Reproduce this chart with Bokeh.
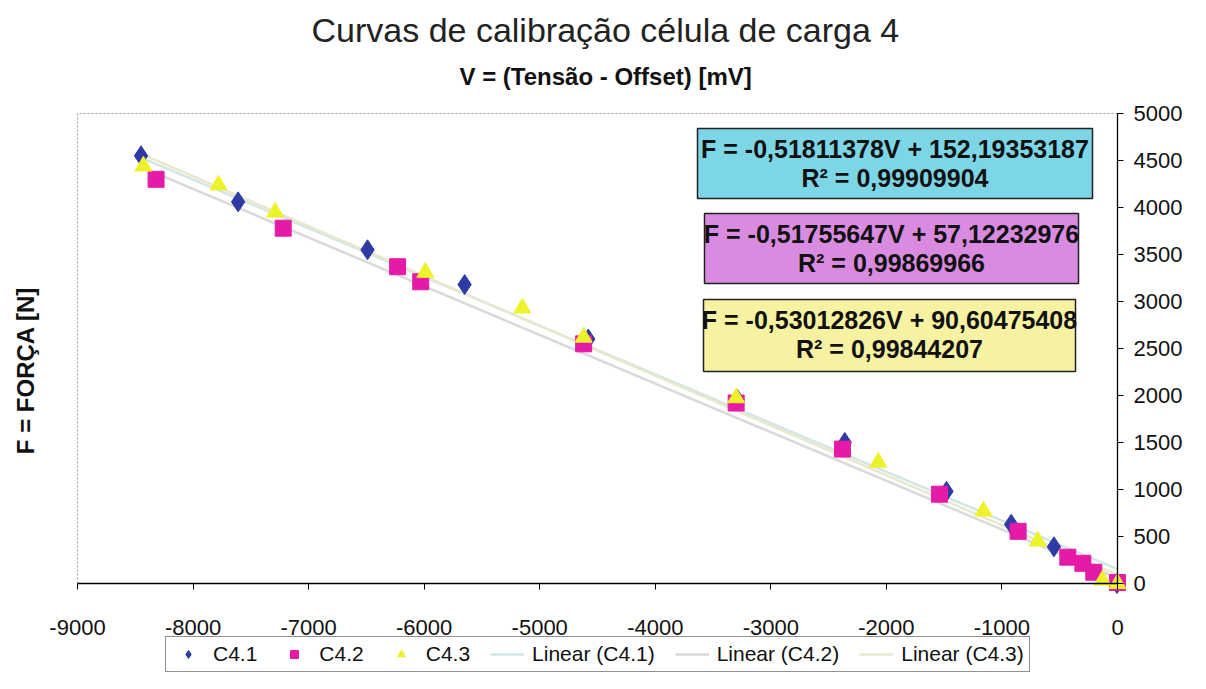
import math
from bokeh.plotting import figure
from bokeh.models import (Range1d, FixedTicker, Legend, LegendItem, Title, Label,
                          BoxAnnotation, CustomJSTickFormatter)
from bokeh.embed import file_html
from bokeh.resources import INLINE

# ---- data ----
v41 = [-8450, -7610, -6490, -5650, -4580, -3290, -2360, -1480, -920, -550, -5]
f41 = [4550, 4060, 3550, 3180, 2600, 1960, 1500, 980, 630, 390, 0]

v42 = [-8320, -7220, -6230, -6030, -4620, -3300, -2380, -1540, -860, -430, -300, -205, 0]
f42 = [4300, 3780, 3370, 3210, 2550, 1920, 1430, 950, 555, 280, 215, 120, 10]

v43 = [-8430, -7780, -7290, -5990, -5150, -4620, -3300, -2070, -1160, -690, -130, 0]
f43 = [4440, 4240, 3950, 3310, 2930, 2620, 1975, 1290, 770, 450, 35, 0]

series = ["C4.1", "C4.2", "C4.3"]
slopes = [-0.51811378, -0.51755647, -0.53012826]
intercepts = [152.19353187, 57.12232976, 90.60475408]
r2 = [0.99909904, 0.99869966, 0.99844207]

x_ticks = [-9000, -8000, -7000, -6000, -5000, -4000, -3000, -2000, -1000, 0]
y_ticks = [0, 500, 1000, 1500, 2000, 2500, 3000, 3500, 4000, 4500, 5000]

FONT = "Liberation Sans"
marker_colors = ["#2E3BA6", "#E51BA8", "#EEF22A"]
trend_colors = ["#D2E6E6", "#D9D9D9", "#E8E8CC"]
box_colors = ["#7DD6E6", "#D98BE0", "#F6F2A2"]

# ---- layout (pixels) ----
W, H = 1190, 673
TOP = 98                      # frame top
X0_PX, X1_PX = 77, 1117       # where -9000 and 0 sit
Y0_PX, Y1_PX = 583, 113       # where 0 and 5000 sit
sx = (X1_PX - X0_PX) / (x_ticks[-1] - x_ticks[0])
sy = (Y0_PX - Y1_PX) / (y_ticks[-1] - y_ticks[0])
x_start = x_ticks[0] - X0_PX / sx
x_end = x_ticks[-1] + (W - X1_PX) / sx
y_end = y_ticks[-1] + (Y1_PX - TOP) / sy
y_start = y_ticks[0] - (H - Y0_PX) / sy


def dx(px):
    return x_ticks[-1] + (px - X1_PX) / sx


def dy(py):
    return y_ticks[0] + (Y0_PX - py) / sy


p = figure(width=W, height=H, output_backend="svg", toolbar_location=None,
           x_range=Range1d(x_start, x_end), y_range=Range1d(y_start, y_end),
           y_axis_location="right", title=None,
           min_border_left=0, min_border_right=0, min_border_top=TOP, min_border_bottom=0)

p.xgrid.visible = False
p.ygrid.visible = False
p.outline_line_color = None
p.background_fill_color = "white"
p.border_fill_color = "white"

fmt = CustomJSTickFormatter(code="return tick.toFixed(0);")
for ax in (p.xaxis[0], p.yaxis[0]):
    ax.axis_line_color = "black"
    ax.axis_line_width = 1.3
    ax.major_tick_in = 0
    ax.major_tick_out = 6
    ax.minor_tick_line_color = None
    ax.major_tick_line_color = "black"
    ax.major_label_text_font = FONT
    ax.major_label_text_font_size = "22px"
    ax.major_label_text_color = "#111111"
    ax.formatter = fmt
p.xaxis[0].ticker = FixedTicker(ticks=x_ticks)
p.yaxis[0].ticker = FixedTicker(ticks=y_ticks)
p.xaxis[0].fixed_location = 0
p.yaxis[0].fixed_location = 0
p.xaxis[0].bounds = (x_ticks[0], x_ticks[-1])
p.yaxis[0].bounds = (y_ticks[0], y_ticks[-1])
p.xaxis[0].major_label_standoff = 30
p.yaxis[0].major_label_standoff = 10

# dotted plot-area border (top and left)
p.line([x_ticks[0], x_ticks[0], x_ticks[-1]], [y_ticks[0], y_ticks[-1], y_ticks[-1]],
       line_color="#9a9a9a", line_dash="2 2", line_width=1)

# trend lines
vs = [v41, v42, v43]
trend_r = []
for i in range(3):
    x0, x1 = min(vs[i]), max(vs[i])
    r = p.line([x0, x1], [slopes[i] * x0 + intercepts[i], slopes[i] * x1 + intercepts[i]],
               line_color=trend_colors[i], line_width=2.5)
    trend_r.append(r)

r1 = p.scatter(v41, f41, marker="diamond", size=20, fill_color=marker_colors[0],
               line_color=marker_colors[0])
r2s = p.scatter(v42, f42, marker="square", size=16, fill_color=marker_colors[1],
                line_color=marker_colors[1])
r3 = p.scatter(v43, f43, marker="triangle", size=17, fill_color=marker_colors[2],
               line_color=marker_colors[2])

# equation boxes (pixel positions of the annotation boxes)
box_l = [697, 704, 703]
box_r = [1092, 1078, 1075]
box_t = [128, 213, 299]
box_b = [198, 283, 371]
for i in range(3):
    p.add_layout(BoxAnnotation(left=dx(box_l[i]), right=dx(box_r[i]), top=dy(box_t[i]),
                               bottom=dy(box_b[i]), fill_color=box_colors[i], fill_alpha=1.0,
                               line_color="#222222", line_width=1.5, line_alpha=1.0))
    xc = dx((box_l[i] + box_r[i]) / 2)
    eq = f"F = {slopes[i]:.8f}V + {intercepts[i]:.8f}".replace(".", ",")
    rr = f"R² = {r2[i]:.8f}".replace(".", ",")
    p.add_layout(Label(x=xc, y=dy(box_t[i] + 20), text=eq, text_align="center",
                       text_baseline="middle", text_font=FONT, text_font_style="bold",
                       text_font_size="25px", text_color="#111111"))
    p.add_layout(Label(x=xc, y=dy(box_t[i] + 49), text=rr, text_align="center",
                       text_baseline="middle", text_font=FONT, text_font_style="bold",
                       text_font_size="25px", text_color="#111111"))

# y axis title
p.add_layout(Label(x=dx(25), y=dy(370), text="F = FORÇA [N]", angle=math.pi / 2,
                   text_align="center", text_baseline="middle", text_font=FONT,
                   text_font_style="bold", text_font_size="24px", text_color="#111111"))

# titles
p.add_layout(Title(text="V = (Tensão - Offset) [mV]", align="left", text_font=FONT,
                   text_font_style="bold", text_font_size="24px", text_color="#111111",
                   standoff=18, offset=459), "above")
p.add_layout(Title(text="Curvas de calibração célula de carga 4", align="left", text_font=FONT,
                   text_font_style="normal", text_font_size="34px", text_color="#222222",
                   standoff=6, offset=311), "above")

legend = Legend(items=[
    LegendItem(label="C4.1", renderers=[r1]),
    LegendItem(label="C4.2", renderers=[r2s]),
    LegendItem(label="C4.3", renderers=[r3]),
    LegendItem(label="Linear (C4.1)", renderers=[trend_r[0]]),
    LegendItem(label="Linear (C4.2)", renderers=[trend_r[1]]),
    LegendItem(label="Linear (C4.3)", renderers=[trend_r[2]]),
], orientation="horizontal", location=(165, 1),
    label_text_font=FONT, label_text_font_size="21px", label_text_color="#111111",
    border_line_color="#222222", border_line_width=1.5, background_fill_alpha=1.0,
    glyph_width=34, glyph_height=20, spacing=20, padding=5, margin=0, label_standoff=8)
p.add_layout(legend, "center")

open("out.html", "w").write(file_html(p, INLINE))
